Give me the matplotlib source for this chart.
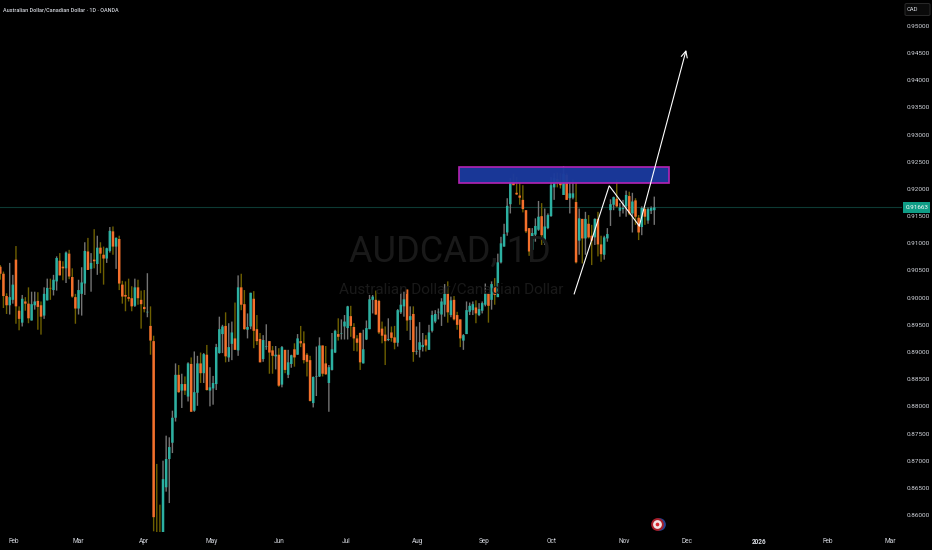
import numpy as np
import matplotlib
matplotlib.use("Agg")
import matplotlib.pyplot as plt
from matplotlib.patches import Rectangle, FancyBboxPatch

# Daily OHLC, in units of 0.0001 CAD
open_e4 = [
 9057,9044,9003,8986,8996,9070,8976,8954,8993,8989,
 8958,8986,8994,8986,8967,8995,9018,9014,9030,9068,
 9057,9054,9081,9038,9001,8980,9007,9026,9085,9053,
 9070,9062,9092,9079,9072,9086,9122,9094,9108,9024,
 9005,9001,8999,8985,9019,8996,8983,8973,8948,8920,
 8565,8560,8560,8651,8703,8733,8779,8858,8829,8841,
 8818,8878,8792,8825,8879,8861,8895,8829,8833,8841,
 8898,8933,8948,8890,8915,8925,8903,9019,8988,8941,
 8947,8998,8942,8924,8887,8910,8920,8903,8892,8895,
 8840,8904,8858,8878,8905,8895,8920,8916,8895,8885,
 8806,8854,8855,8912,8879,8843,8867,8899,8933,8934,
 8947,8944,8966,8946,8925,8935,8879,8923,8942,8996,
 8996,8994,8943,8932,8922,8936,8927,8917,8973,8984,
 9015,8959,8970,8900,8904,8909,8923,8904,8939,8956,
 8973,8969,8987,9007,8968,8996,8968,8960,8921,8933,
 8974,8977,8982,8968,8976,8987,9007,8996,9020,9001,
 9065,9094,9120,9172,9213,9193,9188,9180,9161,9128,
 9088,9116,9125,9150,9101,9128,9150,9203,9218,9214,
 9189,9226,9183,9184,9176,9105,9145,9109,9136,9114,
 9111,9145,9098,9079,9109,9161,9171,9182,9160,9163,
 9168,9187,9155,9179,9147,9130,9163,9142,9160,9161]
close_e4 = [
 9044,9003,8986,9001,9024,8984,8961,8998,8989,8962,
 8988,8993,8983,8965,9007,9018,9017,9033,9073,9041,
 9054,9083,9039,9002,8980,9014,9028,9086,9051,9064,
 9067,9092,9081,9072,9091,9123,9094,9110,9026,9002,
 9002,8998,8984,9019,8999,8988,8979,8974,8921,8596,
 8550,8555,8666,8703,8725,8779,8858,8826,8841,8829,
 8879,8790,8826,8879,8861,8896,8830,8835,8843,8909,
 8942,8947,8892,8909,8936,8904,9019,8987,8942,8946,
 9009,8939,8920,8881,8922,8911,8899,8893,8895,8838,
 8909,8867,8881,8894,8890,8925,8916,8885,8882,8810,
 8854,8855,8912,8860,8859,8872,8905,8939,8928,8935,
 8956,8984,8948,8925,8917,8881,8905,8944,8997,9002,
 8969,8936,8930,8920,8924,8926,8917,8977,8987,8997,
 8958,8966,8900,8901,8918,8913,8912,8936,8968,8970,
 8974,8993,9007,8973,8995,8960,8950,8925,8931,8977,
 8985,8988,8971,8979,8990,9007,8985,9025,9005,9065,
 9100,9117,9169,9212,9207,9190,9184,9163,9122,9085,
 9119,9132,9149,9115,9131,9152,9207,9220,9211,9207,
 9228,9180,9192,9192,9065,9146,9109,9145,9111,9105,
 9145,9098,9080,9111,9117,9172,9185,9168,9166,9165,
 9189,9155,9177,9149,9120,9165,9149,9163,9165,9166]
high_e4 = [
 9060,9048,9008,9064,9042,9095,8984,9005,9001,9019,
 9011,9011,9010,8993,9019,9035,9035,9042,9076,9082,
 9067,9085,9088,9054,9007,9033,9056,9102,9110,9082,
 9126,9114,9102,9094,9092,9130,9131,9111,9114,9031,
 9030,9035,9021,9035,9033,9013,9014,9045,8984,8930,
 8694,8619,8700,8746,8743,8792,8879,8876,8860,8855,
 8881,8890,8901,8893,8899,8898,8913,8872,8856,8915,
 8965,8950,8973,8953,8956,8991,9041,9044,9014,8971,
 9009,9012,8968,8935,8931,8951,8920,8911,8911,8907,
 8911,8904,8904,8895,8916,8933,8948,8938,8898,8893,
 8855,8910,8927,8912,8911,8876,8935,8941,8962,8960,
 8968,8985,8985,8953,8931,8936,8941,8958,9005,9005,
 9013,8996,8956,8947,8962,8947,8948,8979,9009,9011,
 9015,8984,8984,8947,8955,8935,8931,8950,8976,8977,
 8980,8999,9025,9030,9002,9003,8974,8960,8933,8993,
 8991,8993,8995,8990,8993,9026,9007,9030,9036,9081,
 9112,9136,9183,9220,9228,9222,9212,9207,9161,9128,
 9128,9146,9178,9174,9164,9155,9222,9229,9230,9229,
 9242,9229,9214,9217,9211,9164,9145,9158,9152,9134,
 9146,9158,9114,9114,9128,9181,9186,9217,9174,9180,
 9197,9195,9193,9183,9152,9168,9166,9166,9168,9186]
low_e4 = [
 9033,8981,8970,8969,8989,8952,8940,8947,8976,8953,
 8958,8978,8941,8932,8961,8995,8996,9004,9013,9041,
 9032,9027,9034,9000,8952,8969,8967,9005,9051,9011,
 9054,9042,9045,9024,9064,9083,9079,9053,9014,8989,
 8975,8993,8975,8983,8987,8943,8973,8964,8895,8570,
 8540,8540,8550,8643,8622,8714,8772,8825,8797,8821,
 8809,8790,8790,8801,8843,8843,8829,8800,8803,8830,
 8897,8898,8881,8882,8885,8904,8893,8977,8941,8925,
 8942,8907,8913,8881,8882,8904,8860,8860,8868,8836,
 8835,8861,8852,8871,8873,8895,8909,8879,8855,8809,
 8798,8819,8854,8855,8858,8790,8866,8898,8921,8923,
 8923,8923,8928,8902,8901,8867,8879,8922,8942,8971,
 8968,8933,8916,8876,8920,8919,8905,8910,8970,8965,
 8939,8922,8882,8895,8890,8901,8901,8904,8936,8953,
 8960,8948,8965,8954,8964,8958,8941,8909,8904,8933,
 8968,8968,8953,8966,8971,8984,8954,8978,8987,9001,
 9063,9094,9114,9155,9207,9189,9171,9157,9119,9077,
 9077,9103,9123,9097,9097,9126,9149,9180,9203,9201,
 9189,9180,9155,9181,9063,9079,9063,9079,9109,9060,
 9097,9076,9066,9070,9103,9132,9161,9166,9149,9155,
 9149,9152,9120,9134,9106,9115,9134,9136,9154,9134]

price_ticks = [0.86, 0.865, 0.87, 0.875, 0.88, 0.885, 0.89, 0.895, 0.90,
               0.905, 0.91, 0.915, 0.92, 0.925, 0.93, 0.935, 0.94, 0.945, 0.95]
time_labels = ["Feb", "Mar", "Apr", "May", "Jun", "Jul", "Aug", "Sep", "Oct",
               "Nov", "Dec", "2026", "Feb", "Mar"]
time_bars = [4.4, 24.8, 45.9, 67.7, 89.1, 110.5, 133.5, 154.6, 176.3,
             199.4, 219.5, 242.5, 264.3, 284.4]
last_price = 0.91663
zone_bars = [146.6, 213.6]
zone_prices = [0.9211, 0.9241]
path_bars = [183.4, 194.6, 204.2]
path_prices = [0.9007, 0.9206, 0.9132]
arrow_end = [219.2, 0.9456]
event_at = [210.0, 0.8584]

BG = "#000000"
UP = "#2cb0a1"
DOWN = "#f4702c"
UP_WICK = "#747474"
DOWN_WICK = "#6e6000"
TEXT = "#d6d9e0"
FONT = "Roboto"

W, H = 932, 550
fig = plt.figure(figsize=(W / 100, H / 100), dpi=100, facecolor=BG)
AX_R, AX_B = 902, 532
ax = fig.add_axes([0, 1 - AX_B / H, AX_R / W, AX_B / H], facecolor="none")
PX_BAR = 3.128
PX_PRICE = 5434.0
ax.set_xlim(-0.1, (AX_R - 0.3) / PX_BAR - 0.1)
ax.set_ylim(0.86 - (AX_B - 515) / PX_PRICE, 0.95 + 26 / PX_PRICE)

o = np.array(open_e4) / 1e4
c = np.array(close_e4) / 1e4
h = np.array(high_e4) / 1e4
l = np.array(low_e4) / 1e4
x = np.arange(len(o))
up = c >= o

# Watermark
fig.text(450 / W, 1 - 252 / H, "AUDCAD, 1D", fontsize=26, color="#191919",
         family=FONT, ha="center", va="center", zorder=0)
fig.text(451 / W, 1 - 289 / H, "Australian Dollar/Canadian Dollar", fontsize=11,
         color="#191919", family=FONT, ha="center", va="center", zorder=0)

# Last price line
ax.axhline(last_price, color="#0d3a34", lw=0.8, zorder=2)

# Candles
w1 = ax.vlines(x[up], l[up], h[up], color=UP_WICK, lw=1.0, zorder=3)
w2 = ax.vlines(x[~up], l[~up], h[~up], color=DOWN_WICK, lw=1.0, zorder=3)
w1.set_snap(False)
w2.set_snap(False)
for bars in (ax.bar(x[up], (c - o)[up], bottom=o[up], width=0.8, color=UP, lw=0, zorder=4),
             ax.bar(x[~up], (c - o)[~up], bottom=o[~up], width=0.8, color=DOWN, lw=0, zorder=4)):
    for b in bars:
        b.set_snap(False)

# Resistance zone
ax.add_patch(Rectangle((zone_bars[0], zone_prices[0]), zone_bars[1] - zone_bars[0],
                       zone_prices[1] - zone_prices[0], facecolor=(0.106, 0.227, 0.62, 0.96),
                       edgecolor="#b423b4", lw=1.2, zorder=5))

# Drawn path and arrow
ax.plot(path_bars, path_prices, color="white", lw=0.8, zorder=6,
        solid_joinstyle="miter")
ax.annotate("", xy=arrow_end, xytext=(path_bars[-1], path_prices[-1]),
            arrowprops=dict(arrowstyle="->,head_length=0.45,head_width=0.22",
                            color="white", lw=0.8, shrinkA=0, shrinkB=0), zorder=6)

# Calendar marker
ax.scatter([event_at[0] + 0.5], [event_at[1]], s=84, color="#23408f", lw=0, zorder=6, clip_on=False)
ax.scatter([event_at[0]], [event_at[1]], s=84, color="#a81e28", lw=0, zorder=7, clip_on=False)
ax.scatter([event_at[0]], [event_at[1]], s=40, color="#f2e4e4", lw=0, zorder=8, clip_on=False)
ax.scatter([event_at[0]], [event_at[1]], s=7, color="#d9262e", lw=0, zorder=9, clip_on=False)

# Axes
for s in ax.spines.values():
    s.set_visible(False)
ax.yaxis.tick_right()
ax.set_yticks(price_ticks)
ax.set_yticklabels([f"{p:.5f}" for p in price_ticks], fontsize=4.6, color=TEXT, family=FONT)
ax.tick_params(axis="y", length=0, pad=3.0)
ax.set_xticks(time_bars)
ax.set_xticklabels(time_labels, fontsize=4.7, color=TEXT, family=FONT)
for lab in ax.get_xticklabels():
    if lab.get_text() == "2026":
        lab.set_fontweight("bold")
ax.tick_params(axis="x", length=0, pad=4.3)

# Title
fig.text(3 / W, 1 - 9.5 / H, "Australian Dollar/Canadian Dollar · 1D · OANDA",
         fontsize=4.0, color=TEXT, family=FONT, ha="left", va="center", fontweight="medium")

# Last price tag
fig.patches.append(Rectangle((903 / W, 1 - 212.7 / H), 27 / W, 11 / H, transform=fig.transFigure,
                             facecolor="#0f9d86", edgecolor="none", figure=fig, zorder=8))
fig.text(917 / W, 1 - 207.3 / H, f"{last_price:.5f}", fontsize=4.6, color="white",
         family=FONT, ha="center", va="center", zorder=9)

# Currency box
fig.patches.append(FancyBboxPatch((905 / W, 1 - 15.5 / H), 25 / W, 12 / H,
                                  boxstyle="round,pad=0,rounding_size=0.002",
                                  transform=fig.transFigure, facecolor="#0a0a0a",
                                  edgecolor="#2a2a2a", lw=0.7, figure=fig, zorder=8))
fig.text(912 / W, 1 - 9.8 / H, "CAD", fontsize=4.2, color=TEXT, family=FONT,
         ha="center", va="center", zorder=9)

fig.savefig("out.png", dpi=100, facecolor=BG)
